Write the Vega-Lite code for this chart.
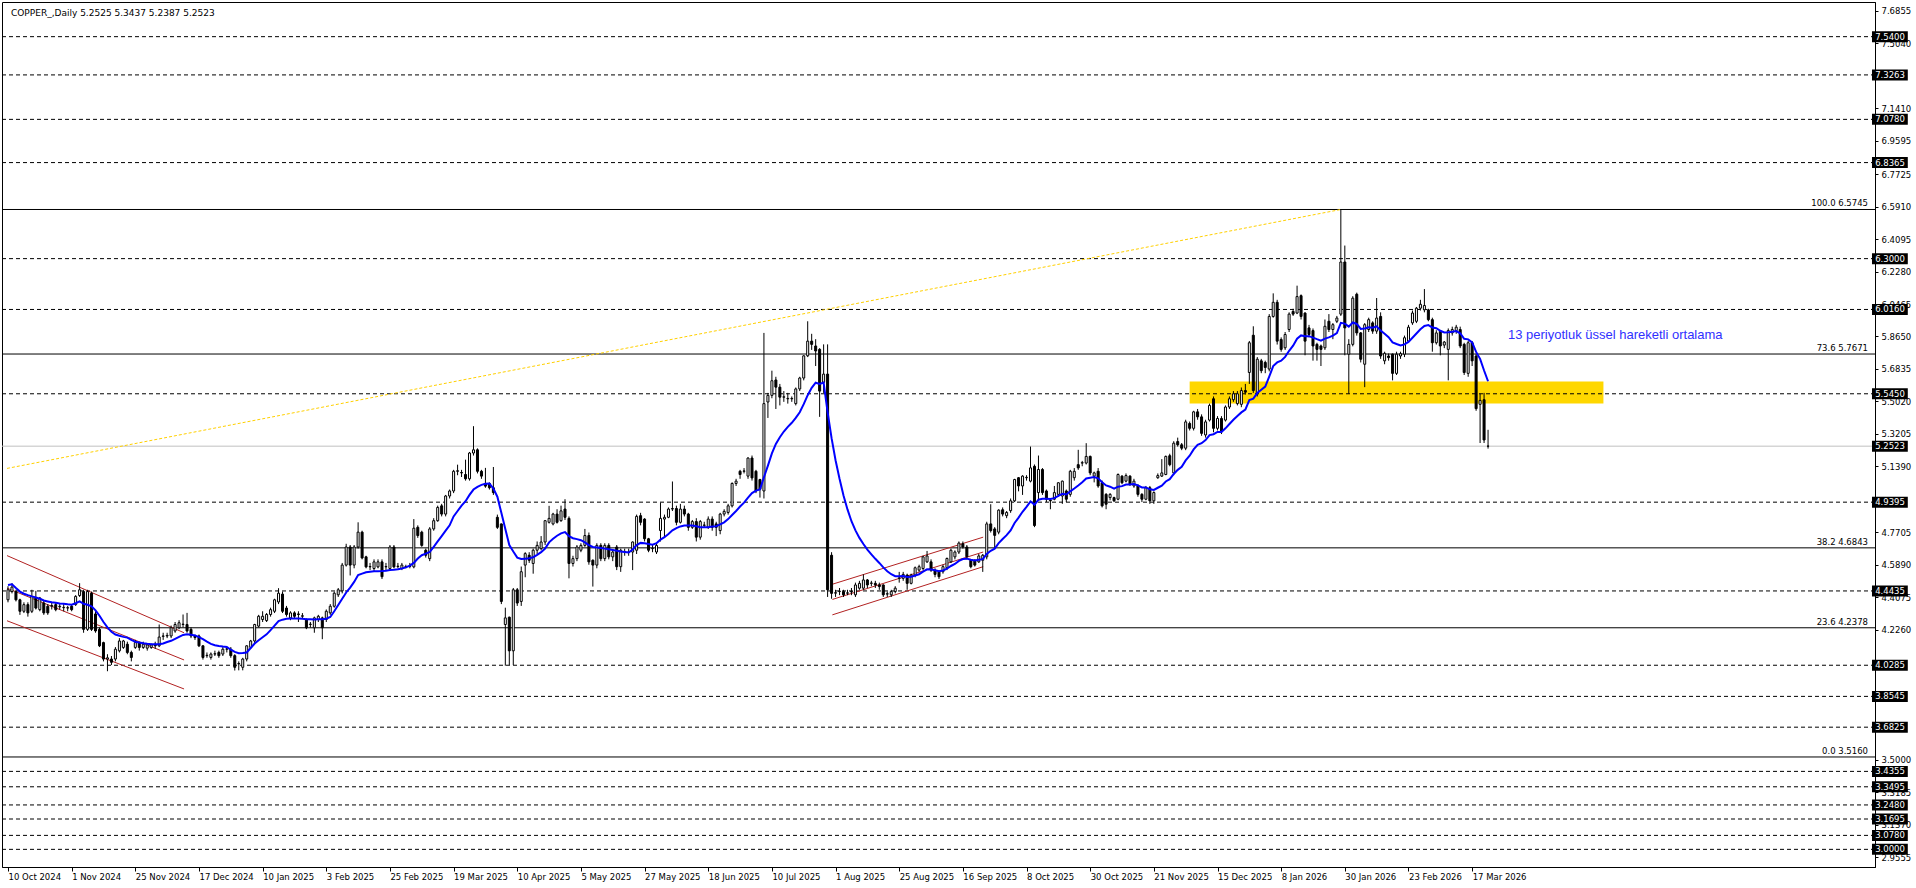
{
"$schema": "https://vega.github.io/schema/vega-lite/v6.json",
"width": 1873, "height": 865,
"autosize": "none",
"padding": {"left": 2, "top": 2, "right": 41, "bottom": 21},
"background": "white",
"config": {"view": {"stroke": "black", "strokeWidth": 1}, "axis": {"grid": false}},
"resolve": {"axis": {"x": "independent", "y": "independent"}},
"datasets": {
"bars": [
{"i":0,"o":4.394,"h":4.47,"l":4.38,"c":4.45,"e":4.477},
{"i":1,"o":4.44,"h":4.487,"l":4.43,"c":4.465,"e":4.481},
{"i":2,"o":4.44,"h":4.45,"l":4.385,"c":4.394,"e":4.46},
{"i":3,"o":4.394,"h":4.4,"l":4.31,"c":4.33,"e":4.44},
{"i":4,"o":4.33,"h":4.38,"l":4.32,"c":4.367,"e":4.428},
{"i":5,"o":4.367,"h":4.38,"l":4.3,"c":4.321,"e":4.42},
{"i":6,"o":4.33,"h":4.45,"l":4.32,"c":4.413,"e":4.413},
{"i":7,"o":4.404,"h":4.444,"l":4.34,"c":4.348,"e":4.407},
{"i":8,"o":4.339,"h":4.41,"l":4.33,"c":4.404,"e":4.4},
{"i":9,"o":4.376,"h":4.39,"l":4.31,"c":4.321,"e":4.39},
{"i":10,"o":4.358,"h":4.37,"l":4.31,"c":4.321,"e":4.385},
{"i":11,"o":4.358,"h":4.38,"l":4.34,"c":4.362,"e":4.38},
{"i":12,"o":4.367,"h":4.38,"l":4.33,"c":4.339,"e":4.377},
{"i":13,"o":4.355,"h":4.37,"l":4.34,"c":4.358,"e":4.374},
{"i":14,"o":4.35,"h":4.37,"l":4.33,"c":4.352,"e":4.372},
{"i":15,"o":4.348,"h":4.36,"l":4.33,"c":4.35,"e":4.369},
{"i":16,"o":4.358,"h":4.37,"l":4.33,"c":4.339,"e":4.367},
{"i":17,"o":4.367,"h":4.42,"l":4.36,"c":4.413,"e":4.375},
{"i":18,"o":4.418,"h":4.487,"l":4.41,"c":4.45,"e":4.385},
{"i":19,"o":4.44,"h":4.45,"l":4.21,"c":4.229,"e":4.372},
{"i":20,"o":4.229,"h":4.45,"l":4.22,"c":4.44,"e":4.366},
{"i":21,"o":4.431,"h":4.44,"l":4.22,"c":4.229,"e":4.358},
{"i":22,"o":4.315,"h":4.33,"l":4.21,"c":4.22,"e":4.335},
{"i":23,"o":4.229,"h":4.24,"l":4.13,"c":4.137,"e":4.305},
{"i":24,"o":4.155,"h":4.16,"l":4.05,"c":4.063,"e":4.27},
{"i":25,"o":4.063,"h":4.09,"l":3.995,"c":4.07,"e":4.24},
{"i":26,"o":4.063,"h":4.08,"l":4.03,"c":4.045,"e":4.215},
{"i":27,"o":4.063,"h":4.13,"l":4.05,"c":4.118,"e":4.2},
{"i":28,"o":4.109,"h":4.18,"l":4.1,"c":4.164,"e":4.193},
{"i":29,"o":4.128,"h":4.17,"l":4.12,"c":4.164,"e":4.187},
{"i":30,"o":4.146,"h":4.16,"l":4.09,"c":4.1,"e":4.183},
{"i":31,"o":4.1,"h":4.11,"l":4.05,"c":4.072,"e":4.17},
{"i":32,"o":4.128,"h":4.17,"l":4.12,"c":4.155,"e":4.16},
{"i":33,"o":4.155,"h":4.16,"l":4.11,"c":4.128,"e":4.155},
{"i":34,"o":4.128,"h":4.16,"l":4.12,"c":4.146,"e":4.151},
{"i":35,"o":4.124,"h":4.15,"l":4.11,"c":4.142,"e":4.148},
{"i":36,"o":4.128,"h":4.15,"l":4.12,"c":4.142,"e":4.146},
{"i":37,"o":4.146,"h":4.16,"l":4.12,"c":4.137,"e":4.146},
{"i":38,"o":4.137,"h":4.256,"l":4.13,"c":4.186,"e":4.146},
{"i":39,"o":4.19,"h":4.21,"l":4.17,"c":4.192,"e":4.15},
{"i":40,"o":4.192,"h":4.21,"l":4.18,"c":4.195,"e":4.158},
{"i":41,"o":4.192,"h":4.25,"l":4.18,"c":4.238,"e":4.165},
{"i":42,"o":4.22,"h":4.27,"l":4.21,"c":4.256,"e":4.176},
{"i":43,"o":4.238,"h":4.28,"l":4.23,"c":4.266,"e":4.187},
{"i":44,"o":4.256,"h":4.312,"l":4.24,"c":4.258,"e":4.198},
{"i":45,"o":4.256,"h":4.321,"l":4.21,"c":4.22,"e":4.201},
{"i":46,"o":4.229,"h":4.24,"l":4.18,"c":4.192,"e":4.199},
{"i":47,"o":4.192,"h":4.2,"l":4.17,"c":4.183,"e":4.195},
{"i":48,"o":4.192,"h":4.2,"l":4.13,"c":4.137,"e":4.186},
{"i":49,"o":4.137,"h":4.14,"l":4.06,"c":4.072,"e":4.174},
{"i":50,"o":4.082,"h":4.1,"l":4.07,"c":4.084,"e":4.16},
{"i":51,"o":4.072,"h":4.1,"l":4.06,"c":4.091,"e":4.148},
{"i":52,"o":4.091,"h":4.11,"l":4.08,"c":4.093,"e":4.14},
{"i":53,"o":4.1,"h":4.11,"l":4.07,"c":4.082,"e":4.136},
{"i":54,"o":4.091,"h":4.13,"l":4.08,"c":4.118,"e":4.133},
{"i":55,"o":4.118,"h":4.13,"l":4.1,"c":4.12,"e":4.131},
{"i":56,"o":4.118,"h":4.13,"l":4.07,"c":4.082,"e":4.115},
{"i":57,"o":4.082,"h":4.09,"l":3.999,"c":4.017,"e":4.103},
{"i":58,"o":4.036,"h":4.05,"l":4.0,"c":4.038,"e":4.096},
{"i":59,"o":4.017,"h":4.07,"l":4.0,"c":4.063,"e":4.097},
{"i":60,"o":4.063,"h":4.14,"l":4.05,"c":4.137,"e":4.1},
{"i":61,"o":4.128,"h":4.17,"l":4.12,"c":4.164,"e":4.125},
{"i":62,"o":4.164,"h":4.26,"l":4.15,"c":4.256,"e":4.15},
{"i":63,"o":4.247,"h":4.31,"l":4.24,"c":4.302,"e":4.168},
{"i":64,"o":4.284,"h":4.33,"l":4.27,"c":4.302,"e":4.185},
{"i":65,"o":4.278,"h":4.32,"l":4.27,"c":4.312,"e":4.201},
{"i":66,"o":4.312,"h":4.35,"l":4.3,"c":4.339,"e":4.225},
{"i":67,"o":4.33,"h":4.4,"l":4.32,"c":4.394,"e":4.25},
{"i":68,"o":4.382,"h":4.459,"l":4.37,"c":4.431,"e":4.275},
{"i":69,"o":4.426,"h":4.44,"l":4.32,"c":4.33,"e":4.283},
{"i":70,"o":4.348,"h":4.36,"l":4.3,"c":4.312,"e":4.288},
{"i":71,"o":4.293,"h":4.33,"l":4.28,"c":4.321,"e":4.29},
{"i":72,"o":4.321,"h":4.33,"l":4.29,"c":4.302,"e":4.29},
{"i":73,"o":4.315,"h":4.33,"l":4.27,"c":4.312,"e":4.29},
{"i":74,"o":4.302,"h":4.32,"l":4.29,"c":4.305,"e":4.288},
{"i":75,"o":4.284,"h":4.29,"l":4.23,"c":4.238,"e":4.286},
{"i":76,"o":4.256,"h":4.27,"l":4.24,"c":4.258,"e":4.285},
{"i":77,"o":4.238,"h":4.3,"l":4.21,"c":4.293,"e":4.284},
{"i":78,"o":4.284,"h":4.31,"l":4.27,"c":4.302,"e":4.285},
{"i":79,"o":4.293,"h":4.3,"l":4.174,"c":4.238,"e":4.286},
{"i":80,"o":4.284,"h":4.34,"l":4.27,"c":4.33,"e":4.288},
{"i":81,"o":4.321,"h":4.37,"l":4.31,"c":4.358,"e":4.298},
{"i":82,"o":4.358,"h":4.44,"l":4.35,"c":4.431,"e":4.33},
{"i":83,"o":4.422,"h":4.46,"l":4.41,"c":4.45,"e":4.365},
{"i":84,"o":4.444,"h":4.6,"l":4.43,"c":4.588,"e":4.4},
{"i":85,"o":4.588,"h":4.707,"l":4.58,"c":4.689,"e":4.435},
{"i":86,"o":4.689,"h":4.7,"l":4.53,"c":4.588,"e":4.462},
{"i":87,"o":4.588,"h":4.7,"l":4.57,"c":4.689,"e":4.494},
{"i":88,"o":4.689,"h":4.827,"l":4.68,"c":4.772,"e":4.532},
{"i":89,"o":4.772,"h":4.78,"l":4.62,"c":4.628,"e":4.54},
{"i":90,"o":4.634,"h":4.64,"l":4.57,"c":4.578,"e":4.548},
{"i":91,"o":4.578,"h":4.6,"l":4.56,"c":4.58,"e":4.551},
{"i":92,"o":4.569,"h":4.62,"l":4.55,"c":4.606,"e":4.553},
{"i":93,"o":4.578,"h":4.62,"l":4.57,"c":4.606,"e":4.554},
{"i":94,"o":4.606,"h":4.62,"l":4.51,"c":4.523,"e":4.555},
{"i":95,"o":4.578,"h":4.6,"l":4.56,"c":4.58,"e":4.557},
{"i":96,"o":4.569,"h":4.7,"l":4.56,"c":4.689,"e":4.56},
{"i":97,"o":4.689,"h":4.7,"l":4.57,"c":4.578,"e":4.562},
{"i":98,"o":4.58,"h":4.6,"l":4.57,"c":4.582,"e":4.565},
{"i":99,"o":4.569,"h":4.6,"l":4.56,"c":4.588,"e":4.569},
{"i":100,"o":4.578,"h":4.59,"l":4.57,"c":4.58,"e":4.575},
{"i":101,"o":4.58,"h":4.6,"l":4.57,"c":4.582,"e":4.585},
{"i":102,"o":4.578,"h":4.845,"l":4.57,"c":4.794,"e":4.6},
{"i":103,"o":4.799,"h":4.81,"l":4.74,"c":4.753,"e":4.625},
{"i":104,"o":4.772,"h":4.78,"l":4.69,"c":4.698,"e":4.643},
{"i":105,"o":4.671,"h":4.68,"l":4.63,"c":4.643,"e":4.652},
{"i":106,"o":4.624,"h":4.8,"l":4.61,"c":4.79,"e":4.661},
{"i":107,"o":4.79,"h":4.85,"l":4.78,"c":4.836,"e":4.69},
{"i":108,"o":4.836,"h":4.92,"l":4.83,"c":4.91,"e":4.72},
{"i":109,"o":4.919,"h":4.93,"l":4.86,"c":4.873,"e":4.75},
{"i":110,"o":4.873,"h":4.98,"l":4.86,"c":4.974,"e":4.78},
{"i":111,"o":4.974,"h":5.01,"l":4.96,"c":5.002,"e":4.81},
{"i":112,"o":5.002,"h":5.12,"l":4.99,"c":5.112,"e":4.86},
{"i":113,"o":5.112,"h":5.149,"l":5.09,"c":5.115,"e":4.89},
{"i":114,"o":5.105,"h":5.12,"l":5.08,"c":5.103,"e":4.92},
{"i":115,"o":5.094,"h":5.177,"l":5.06,"c":5.07,"e":4.945},
{"i":116,"o":5.07,"h":5.22,"l":5.06,"c":5.214,"e":4.98},
{"i":117,"o":5.214,"h":5.364,"l":5.2,"c":5.232,"e":5.01},
{"i":118,"o":5.232,"h":5.24,"l":5.1,"c":5.112,"e":5.025},
{"i":119,"o":5.112,"h":5.12,"l":5.07,"c":5.085,"e":5.036},
{"i":120,"o":5.044,"h":5.131,"l":5.02,"c":5.029,"e":5.042},
{"i":121,"o":5.044,"h":5.05,"l":5.01,"c":5.02,"e":5.044},
{"i":122,"o":5.02,"h":5.136,"l":4.98,"c":4.993,"e":5.015},
{"i":123,"o":4.855,"h":4.87,"l":4.79,"c":4.799,"e":4.97},
{"i":124,"o":4.818,"h":4.82,"l":4.37,"c":4.385,"e":4.88},
{"i":125,"o":4.256,"h":4.35,"l":4.026,"c":4.293,"e":4.79},
{"i":126,"o":4.297,"h":4.3,"l":4.03,"c":4.109,"e":4.7},
{"i":127,"o":4.109,"h":4.46,"l":4.03,"c":4.45,"e":4.664},
{"i":128,"o":4.45,"h":4.46,"l":4.36,"c":4.376,"e":4.63},
{"i":129,"o":4.385,"h":4.58,"l":4.36,"c":4.551,"e":4.622},
{"i":130,"o":4.588,"h":4.66,"l":4.52,"c":4.652,"e":4.624},
{"i":131,"o":4.643,"h":4.66,"l":4.6,"c":4.615,"e":4.626},
{"i":132,"o":4.597,"h":4.68,"l":4.54,"c":4.671,"e":4.632},
{"i":133,"o":4.671,"h":4.72,"l":4.65,"c":4.698,"e":4.645},
{"i":134,"o":4.68,"h":4.75,"l":4.67,"c":4.717,"e":4.66},
{"i":135,"o":4.717,"h":4.84,"l":4.7,"c":4.836,"e":4.68},
{"i":136,"o":4.827,"h":4.919,"l":4.82,"c":4.849,"e":4.715},
{"i":137,"o":4.818,"h":4.88,"l":4.81,"c":4.873,"e":4.735},
{"i":138,"o":4.873,"h":4.9,"l":4.82,"c":4.827,"e":4.752},
{"i":139,"o":4.836,"h":4.92,"l":4.83,"c":4.891,"e":4.765},
{"i":140,"o":4.901,"h":4.956,"l":4.84,"c":4.855,"e":4.772},
{"i":141,"o":4.849,"h":4.86,"l":4.514,"c":4.597,"e":4.75},
{"i":142,"o":4.597,"h":4.64,"l":4.58,"c":4.624,"e":4.738},
{"i":143,"o":4.624,"h":4.7,"l":4.61,"c":4.689,"e":4.733},
{"i":144,"o":4.671,"h":4.71,"l":4.66,"c":4.698,"e":4.727},
{"i":145,"o":4.698,"h":4.79,"l":4.69,"c":4.753,"e":4.715},
{"i":146,"o":4.753,"h":4.77,"l":4.59,"c":4.606,"e":4.7},
{"i":147,"o":4.615,"h":4.62,"l":4.468,"c":4.588,"e":4.689},
{"i":148,"o":4.588,"h":4.71,"l":4.57,"c":4.698,"e":4.686},
{"i":149,"o":4.698,"h":4.71,"l":4.61,"c":4.624,"e":4.683},
{"i":150,"o":4.624,"h":4.71,"l":4.61,"c":4.698,"e":4.68},
{"i":151,"o":4.698,"h":4.71,"l":4.62,"c":4.634,"e":4.676},
{"i":152,"o":4.634,"h":4.67,"l":4.61,"c":4.661,"e":4.672},
{"i":153,"o":4.689,"h":4.7,"l":4.56,"c":4.579,"e":4.668},
{"i":154,"o":4.579,"h":4.68,"l":4.55,"c":4.671,"e":4.664},
{"i":155,"o":4.661,"h":4.68,"l":4.64,"c":4.663,"e":4.661},
{"i":156,"o":4.661,"h":4.68,"l":4.64,"c":4.659,"e":4.658},
{"i":157,"o":4.661,"h":4.72,"l":4.56,"c":4.717,"e":4.675},
{"i":158,"o":4.671,"h":4.87,"l":4.65,"c":4.86,"e":4.7},
{"i":159,"o":4.864,"h":4.88,"l":4.81,"c":4.827,"e":4.712},
{"i":160,"o":4.845,"h":4.85,"l":4.72,"c":4.735,"e":4.71},
{"i":161,"o":4.735,"h":4.74,"l":4.66,"c":4.671,"e":4.706},
{"i":162,"o":4.68,"h":4.7,"l":4.66,"c":4.682,"e":4.702},
{"i":163,"o":4.661,"h":4.71,"l":4.65,"c":4.698,"e":4.71},
{"i":164,"o":4.781,"h":4.937,"l":4.72,"c":4.849,"e":4.73},
{"i":165,"o":4.845,"h":4.87,"l":4.74,"c":4.855,"e":4.744},
{"i":166,"o":4.855,"h":4.91,"l":4.85,"c":4.901,"e":4.762},
{"i":167,"o":4.901,"h":5.055,"l":4.89,"c":4.904,"e":4.782},
{"i":168,"o":4.904,"h":4.92,"l":4.81,"c":4.827,"e":4.795},
{"i":169,"o":4.827,"h":4.93,"l":4.82,"c":4.901,"e":4.804},
{"i":170,"o":4.901,"h":4.92,"l":4.86,"c":4.873,"e":4.809},
{"i":171,"o":4.873,"h":4.88,"l":4.78,"c":4.799,"e":4.809},
{"i":172,"o":4.799,"h":4.84,"l":4.79,"c":4.831,"e":4.809},
{"i":173,"o":4.831,"h":4.85,"l":4.72,"c":4.744,"e":4.805},
{"i":174,"o":4.744,"h":4.84,"l":4.73,"c":4.831,"e":4.8},
{"i":175,"o":4.81,"h":4.83,"l":4.8,"c":4.812,"e":4.799},
{"i":176,"o":4.799,"h":4.86,"l":4.79,"c":4.845,"e":4.8},
{"i":177,"o":4.845,"h":4.86,"l":4.78,"c":4.799,"e":4.804},
{"i":178,"o":4.818,"h":4.83,"l":4.75,"c":4.799,"e":4.805},
{"i":179,"o":4.781,"h":4.88,"l":4.76,"c":4.873,"e":4.815},
{"i":180,"o":4.873,"h":4.9,"l":4.86,"c":4.888,"e":4.827},
{"i":181,"o":4.882,"h":4.93,"l":4.87,"c":4.919,"e":4.845},
{"i":182,"o":4.919,"h":5.05,"l":4.91,"c":5.044,"e":4.868},
{"i":183,"o":5.044,"h":5.07,"l":5.03,"c":5.057,"e":4.89},
{"i":184,"o":5.112,"h":5.12,"l":5.07,"c":5.094,"e":4.915},
{"i":185,"o":5.112,"h":5.13,"l":5.1,"c":5.114,"e":4.937},
{"i":186,"o":5.085,"h":5.19,"l":5.07,"c":5.186,"e":4.965},
{"i":187,"o":5.186,"h":5.2,"l":5.06,"c":5.075,"e":4.99},
{"i":188,"o":5.112,"h":5.12,"l":4.99,"c":5.002,"e":5.004},
{"i":189,"o":5.066,"h":5.07,"l":4.965,"c":5.011,"e":5.011},
{"i":190,"o":5.002,"h":5.885,"l":4.96,"c":5.49,"e":5.079},
{"i":191,"o":5.499,"h":5.55,"l":5.41,"c":5.536,"e":5.144},
{"i":192,"o":5.536,"h":5.674,"l":5.52,"c":5.618,"e":5.212},
{"i":193,"o":5.622,"h":5.64,"l":5.46,"c":5.582,"e":5.265},
{"i":194,"o":5.582,"h":5.6,"l":5.48,"c":5.526,"e":5.302},
{"i":195,"o":5.526,"h":5.56,"l":5.5,"c":5.528,"e":5.334},
{"i":196,"o":5.517,"h":5.55,"l":5.49,"c":5.519,"e":5.36},
{"i":197,"o":5.517,"h":5.53,"l":5.5,"c":5.519,"e":5.383},
{"i":198,"o":5.49,"h":5.58,"l":5.48,"c":5.572,"e":5.41},
{"i":199,"o":5.572,"h":5.64,"l":5.56,"c":5.633,"e":5.442},
{"i":200,"o":5.633,"h":5.76,"l":5.62,"c":5.757,"e":5.487},
{"i":201,"o":5.757,"h":5.95,"l":5.75,"c":5.839,"e":5.537},
{"i":202,"o":5.839,"h":5.88,"l":5.79,"c":5.821,"e":5.578},
{"i":203,"o":5.812,"h":5.85,"l":5.7,"c":5.784,"e":5.607},
{"i":204,"o":5.793,"h":5.8,"l":5.416,"c":5.56,"e":5.6},
{"i":205,"o":5.609,"h":5.821,"l":5.55,"c":5.655,"e":5.608},
{"i":206,"o":5.655,"h":5.821,"l":4.41,"c":4.45,"e":5.442},
{"i":207,"o":4.643,"h":4.66,"l":4.4,"c":4.43,"e":5.297},
{"i":208,"o":4.431,"h":4.45,"l":4.41,"c":4.434,"e":5.174},
{"i":209,"o":4.44,"h":4.46,"l":4.42,"c":4.442,"e":5.07},
{"i":210,"o":4.44,"h":4.45,"l":4.41,"c":4.422,"e":4.977},
{"i":211,"o":4.431,"h":4.45,"l":4.42,"c":4.433,"e":4.899},
{"i":212,"o":4.44,"h":4.46,"l":4.42,"c":4.438,"e":4.833},
{"i":213,"o":4.422,"h":4.49,"l":4.41,"c":4.477,"e":4.782},
{"i":214,"o":4.459,"h":4.5,"l":4.45,"c":4.486,"e":4.74},
{"i":215,"o":4.459,"h":4.536,"l":4.45,"c":4.505,"e":4.706},
{"i":216,"o":4.505,"h":4.51,"l":4.46,"c":4.477,"e":4.674},
{"i":217,"o":4.486,"h":4.5,"l":4.47,"c":4.488,"e":4.648},
{"i":218,"o":4.486,"h":4.5,"l":4.46,"c":4.477,"e":4.623},
{"i":219,"o":4.477,"h":4.49,"l":4.45,"c":4.468,"e":4.6},
{"i":220,"o":4.477,"h":4.48,"l":4.41,"c":4.422,"e":4.575},
{"i":221,"o":4.426,"h":4.44,"l":4.41,"c":4.428,"e":4.554},
{"i":222,"o":4.422,"h":4.45,"l":4.41,"c":4.44,"e":4.537},
{"i":223,"o":4.44,"h":4.47,"l":4.43,"c":4.459,"e":4.526},
{"i":224,"o":4.514,"h":4.55,"l":4.49,"c":4.516,"e":4.525},
{"i":225,"o":4.514,"h":4.55,"l":4.5,"c":4.536,"e":4.527},
{"i":226,"o":4.532,"h":4.54,"l":4.45,"c":4.486,"e":4.521},
{"i":227,"o":4.486,"h":4.54,"l":4.48,"c":4.532,"e":4.523},
{"i":228,"o":4.532,"h":4.58,"l":4.52,"c":4.573,"e":4.53},
{"i":229,"o":4.56,"h":4.59,"l":4.55,"c":4.579,"e":4.537},
{"i":230,"o":4.569,"h":4.64,"l":4.56,"c":4.634,"e":4.551},
{"i":231,"o":4.606,"h":4.667,"l":4.6,"c":4.639,"e":4.564},
{"i":232,"o":4.606,"h":4.62,"l":4.55,"c":4.56,"e":4.563},
{"i":233,"o":4.56,"h":4.57,"l":4.52,"c":4.536,"e":4.559},
{"i":234,"o":4.551,"h":4.56,"l":4.51,"c":4.523,"e":4.554},
{"i":235,"o":4.551,"h":4.59,"l":4.54,"c":4.579,"e":4.558},
{"i":236,"o":4.573,"h":4.63,"l":4.56,"c":4.625,"e":4.568},
{"i":237,"o":4.606,"h":4.68,"l":4.6,"c":4.671,"e":4.583},
{"i":238,"o":4.634,"h":4.67,"l":4.62,"c":4.661,"e":4.594},
{"i":239,"o":4.661,"h":4.72,"l":4.65,"c":4.711,"e":4.611},
{"i":240,"o":4.707,"h":4.72,"l":4.68,"c":4.689,"e":4.622},
{"i":241,"o":4.689,"h":4.7,"l":4.62,"c":4.634,"e":4.624},
{"i":242,"o":4.615,"h":4.62,"l":4.57,"c":4.579,"e":4.618},
{"i":243,"o":4.615,"h":4.62,"l":4.58,"c":4.588,"e":4.614},
{"i":244,"o":4.606,"h":4.65,"l":4.6,"c":4.639,"e":4.618},
{"i":245,"o":4.615,"h":4.65,"l":4.55,"c":4.643,"e":4.621},
{"i":246,"o":4.634,"h":4.83,"l":4.62,"c":4.818,"e":4.65},
{"i":247,"o":4.818,"h":4.928,"l":4.77,"c":4.781,"e":4.668},
{"i":248,"o":4.79,"h":4.8,"l":4.68,"c":4.754,"e":4.68},
{"i":249,"o":4.772,"h":4.9,"l":4.76,"c":4.895,"e":4.711},
{"i":250,"o":4.897,"h":4.91,"l":4.86,"c":4.873,"e":4.734},
{"i":251,"o":4.864,"h":4.89,"l":4.85,"c":4.882,"e":4.755},
{"i":252,"o":4.892,"h":4.96,"l":4.88,"c":4.947,"e":4.782},
{"i":253,"o":4.947,"h":5.07,"l":4.94,"c":5.066,"e":4.823},
{"i":254,"o":5.076,"h":5.08,"l":5.0,"c":5.03,"e":4.853},
{"i":255,"o":5.03,"h":5.09,"l":4.98,"c":5.085,"e":4.886},
{"i":256,"o":5.076,"h":5.09,"l":5.06,"c":5.078,"e":4.913},
{"i":257,"o":5.057,"h":5.25,"l":5.05,"c":5.131,"e":4.944},
{"i":258,"o":5.14,"h":5.15,"l":4.8,"c":4.809,"e":4.925},
{"i":259,"o":4.993,"h":5.2,"l":4.95,"c":5.122,"e":4.953},
{"i":260,"o":5.122,"h":5.13,"l":4.98,"c":4.993,"e":4.959},
{"i":261,"o":5.002,"h":5.01,"l":4.94,"c":4.956,"e":4.958},
{"i":262,"o":4.95,"h":4.96,"l":4.9,"c":4.947,"e":4.957},
{"i":263,"o":4.956,"h":5.03,"l":4.95,"c":4.993,"e":4.962},
{"i":264,"o":4.983,"h":5.05,"l":4.97,"c":5.048,"e":4.974},
{"i":265,"o":4.974,"h":5.06,"l":4.93,"c":5.057,"e":4.986},
{"i":266,"o":5.002,"h":5.01,"l":4.94,"c":4.956,"e":4.982},
{"i":267,"o":4.983,"h":5.12,"l":4.97,"c":5.112,"e":5.0},
{"i":268,"o":5.076,"h":5.13,"l":5.06,"c":5.112,"e":5.016},
{"i":269,"o":5.149,"h":5.232,"l":5.12,"c":5.131,"e":5.033},
{"i":270,"o":5.158,"h":5.17,"l":5.14,"c":5.16,"e":5.051},
{"i":271,"o":5.158,"h":5.269,"l":5.15,"c":5.195,"e":5.072},
{"i":272,"o":5.195,"h":5.2,"l":5.09,"c":5.103,"e":5.076},
{"i":273,"o":5.085,"h":5.11,"l":5.05,"c":5.103,"e":5.08},
{"i":274,"o":5.112,"h":5.13,"l":5.02,"c":5.03,"e":5.073},
{"i":275,"o":5.048,"h":5.06,"l":4.91,"c":4.919,"e":5.051},
{"i":276,"o":4.983,"h":4.99,"l":4.9,"c":4.928,"e":5.033},
{"i":277,"o":4.965,"h":4.99,"l":4.95,"c":4.983,"e":5.026},
{"i":278,"o":4.965,"h":4.97,"l":4.94,"c":4.947,"e":5.015},
{"i":279,"o":4.956,"h":5.1,"l":4.95,"c":5.094,"e":5.026},
{"i":280,"o":5.085,"h":5.09,"l":5.04,"c":5.048,"e":5.029},
{"i":281,"o":5.057,"h":5.1,"l":5.05,"c":5.088,"e":5.038},
{"i":282,"o":5.085,"h":5.09,"l":5.03,"c":5.039,"e":5.038},
{"i":283,"o":5.03,"h":5.07,"l":5.02,"c":5.057,"e":5.041},
{"i":284,"o":5.03,"h":5.04,"l":4.97,"c":4.983,"e":5.033},
{"i":285,"o":4.983,"h":4.99,"l":4.94,"c":4.956,"e":5.022},
{"i":286,"o":4.956,"h":5.03,"l":4.95,"c":5.02,"e":5.022},
{"i":287,"o":5.02,"h":5.03,"l":4.93,"c":4.947,"e":5.011},
{"i":288,"o":4.947,"h":5.0,"l":4.93,"c":4.993,"e":5.008},
{"i":289,"o":5.076,"h":5.1,"l":5.07,"c":5.088,"e":5.02},
{"i":290,"o":5.085,"h":5.18,"l":5.08,"c":5.103,"e":5.032},
{"i":291,"o":5.094,"h":5.2,"l":5.09,"c":5.195,"e":5.055},
{"i":292,"o":5.199,"h":5.21,"l":5.14,"c":5.149,"e":5.068},
{"i":293,"o":5.103,"h":5.28,"l":5.09,"c":5.269,"e":5.097},
{"i":294,"o":5.278,"h":5.3,"l":5.25,"c":5.26,"e":5.12},
{"i":295,"o":5.26,"h":5.27,"l":5.23,"c":5.241,"e":5.137},
{"i":296,"o":5.241,"h":5.4,"l":5.23,"c":5.388,"e":5.173},
{"i":297,"o":5.379,"h":5.39,"l":5.34,"c":5.352,"e":5.199},
{"i":298,"o":5.352,"h":5.45,"l":5.34,"c":5.444,"e":5.234},
{"i":299,"o":5.444,"h":5.46,"l":5.4,"c":5.416,"e":5.26},
{"i":300,"o":5.416,"h":5.43,"l":5.31,"c":5.324,"e":5.269},
{"i":301,"o":5.315,"h":5.4,"l":5.3,"c":5.388,"e":5.286},
{"i":302,"o":5.398,"h":5.49,"l":5.39,"c":5.48,"e":5.314},
{"i":303,"o":5.517,"h":5.53,"l":5.33,"c":5.352,"e":5.319},
{"i":304,"o":5.352,"h":5.42,"l":5.34,"c":5.407,"e":5.332},
{"i":305,"o":5.407,"h":5.42,"l":5.32,"c":5.333,"e":5.332},
{"i":306,"o":5.398,"h":5.48,"l":5.39,"c":5.471,"e":5.352},
{"i":307,"o":5.471,"h":5.53,"l":5.46,"c":5.517,"e":5.376},
{"i":308,"o":5.512,"h":5.56,"l":5.5,"c":5.545,"e":5.4},
{"i":309,"o":5.49,"h":5.56,"l":5.48,"c":5.545,"e":5.421},
{"i":310,"o":5.486,"h":5.58,"l":5.47,"c":5.563,"e":5.441},
{"i":311,"o":5.563,"h":5.6,"l":5.54,"c":5.554,"e":5.457},
{"i":312,"o":5.664,"h":5.84,"l":5.6,"c":5.83,"e":5.51},
{"i":313,"o":5.872,"h":5.922,"l":5.55,"c":5.563,"e":5.518},
{"i":314,"o":5.545,"h":5.75,"l":5.53,"c":5.738,"e":5.549},
{"i":315,"o":5.729,"h":5.74,"l":5.66,"c":5.674,"e":5.567},
{"i":316,"o":5.72,"h":5.73,"l":5.66,"c":5.692,"e":5.585},
{"i":317,"o":5.683,"h":5.99,"l":5.67,"c":5.977,"e":5.641},
{"i":318,"o":5.977,"h":6.106,"l":5.97,"c":6.056,"e":5.7},
{"i":319,"o":6.056,"h":6.07,"l":5.82,"c":5.839,"e":5.72},
{"i":320,"o":5.848,"h":5.86,"l":5.78,"c":5.793,"e":5.73},
{"i":321,"o":5.802,"h":5.89,"l":5.79,"c":5.876,"e":5.751},
{"i":322,"o":5.904,"h":6.0,"l":5.89,"c":5.99,"e":5.785},
{"i":323,"o":6.005,"h":6.02,"l":5.98,"c":5.99,"e":5.814},
{"i":324,"o":5.996,"h":6.149,"l":5.99,"c":6.088,"e":5.853},
{"i":325,"o":6.093,"h":6.1,"l":5.96,"c":5.977,"e":5.871},
{"i":326,"o":5.996,"h":6.0,"l":5.76,"c":5.839,"e":5.866},
{"i":327,"o":5.913,"h":5.93,"l":5.86,"c":5.876,"e":5.867},
{"i":328,"o":5.898,"h":5.91,"l":5.73,"c":5.812,"e":5.859},
{"i":329,"o":5.821,"h":5.83,"l":5.73,"c":5.793,"e":5.85},
{"i":330,"o":5.812,"h":5.82,"l":5.7,"c":5.793,"e":5.842},
{"i":331,"o":5.802,"h":5.96,"l":5.79,"c":5.922,"e":5.853},
{"i":332,"o":5.95,"h":5.99,"l":5.89,"c":5.904,"e":5.86},
{"i":333,"o":5.904,"h":5.94,"l":5.85,"c":5.931,"e":5.87},
{"i":334,"o":5.95,"h":5.98,"l":5.94,"c":5.968,"e":5.884},
{"i":335,"o":5.99,"h":6.576,"l":5.98,"c":6.281,"e":5.941},
{"i":336,"o":6.281,"h":6.373,"l":5.76,"c":5.913,"e":5.937},
{"i":337,"o":5.766,"h":5.85,"l":5.545,"c":5.821,"e":5.92},
{"i":338,"o":5.821,"h":6.09,"l":5.81,"c":6.079,"e":5.943},
{"i":339,"o":6.101,"h":6.11,"l":5.87,"c":5.885,"e":5.935},
{"i":340,"o":5.885,"h":5.89,"l":5.72,"c":5.738,"e":5.907},
{"i":341,"o":5.71,"h":5.94,"l":5.582,"c":5.931,"e":5.91},
{"i":342,"o":5.904,"h":5.97,"l":5.89,"c":5.959,"e":5.917},
{"i":343,"o":5.941,"h":5.95,"l":5.88,"c":5.895,"e":5.914},
{"i":344,"o":5.895,"h":6.08,"l":5.88,"c":5.968,"e":5.922},
{"i":345,"o":5.977,"h":6.0,"l":5.74,"c":5.756,"e":5.898},
{"i":346,"o":5.729,"h":5.78,"l":5.71,"c":5.771,"e":5.88},
{"i":347,"o":5.756,"h":5.77,"l":5.73,"c":5.747,"e":5.861},
{"i":348,"o":5.766,"h":5.77,"l":5.62,"c":5.659,"e":5.832},
{"i":349,"o":5.659,"h":5.78,"l":5.65,"c":5.766,"e":5.823},
{"i":350,"o":5.756,"h":5.78,"l":5.74,"c":5.769,"e":5.815},
{"i":351,"o":5.766,"h":5.87,"l":5.75,"c":5.858,"e":5.821},
{"i":352,"o":5.839,"h":5.93,"l":5.83,"c":5.917,"e":5.835},
{"i":353,"o":5.941,"h":6.01,"l":5.93,"c":5.996,"e":5.858},
{"i":354,"o":5.95,"h":6.03,"l":5.94,"c":6.023,"e":5.882},
{"i":355,"o":6.023,"h":6.07,"l":6.01,"c":6.045,"e":5.905},
{"i":356,"o":6.014,"h":6.13,"l":6.0,"c":6.038,"e":5.924},
{"i":357,"o":6.014,"h":6.02,"l":5.95,"c":5.959,"e":5.929},
{"i":358,"o":5.959,"h":5.97,"l":5.78,"c":5.83,"e":5.915},
{"i":359,"o":5.83,"h":5.9,"l":5.82,"c":5.885,"e":5.911},
{"i":360,"o":5.895,"h":5.9,"l":5.76,"c":5.812,"e":5.897},
{"i":361,"o":5.817,"h":5.84,"l":5.8,"c":5.834,"e":5.888},
{"i":362,"o":5.793,"h":5.91,"l":5.62,"c":5.898,"e":5.889},
{"i":363,"o":5.885,"h":5.92,"l":5.87,"c":5.904,"e":5.891},
{"i":364,"o":5.898,"h":5.93,"l":5.88,"c":5.917,"e":5.895},
{"i":365,"o":5.904,"h":5.92,"l":5.8,"c":5.812,"e":5.883},
{"i":366,"o":5.821,"h":5.83,"l":5.65,"c":5.664,"e":5.852},
{"i":367,"o":5.659,"h":5.84,"l":5.64,"c":5.83,"e":5.849},
{"i":368,"o":5.83,"h":5.84,"l":5.7,"c":5.729,"e":5.832},
{"i":369,"o":5.756,"h":5.77,"l":5.45,"c":5.462,"e":5.779},
{"i":370,"o":5.486,"h":5.545,"l":5.27,"c":5.508,"e":5.74},
{"i":371,"o":5.512,"h":5.55,"l":5.27,"c":5.287,"e":5.675},
{"i":372,"o":5.2525,"h":5.3437,"l":5.2387,"c":5.2523,"e":5.615}
],
"lines": [
{"p":7.54,"k":"d"},{"p":7.3263,"k":"d"},{"p":7.078,"k":"d"},{"p":6.8365,"k":"d"},{"p":6.3,"k":"d"},{"p":6.016,"k":"d"},{"p":5.545,"k":"d"},{"p":4.9395,"k":"d"},{"p":4.4435,"k":"d"},{"p":4.0285,"k":"d"},{"p":3.8545,"k":"d"},{"p":3.6825,"k":"d"},{"p":3.4355,"k":"d"},{"p":3.3495,"k":"d"},{"p":3.248,"k":"d"},{"p":3.1695,"k":"d"},{"p":3.078,"k":"d"},{"p":3.0,"k":"d"},
{"p":5.2523,"k":"b"},
{"p":6.5745,"k":"f","t":"100.0 6.5745"},{"p":5.7671,"k":"f","t":"73.6 5.7671"},{"p":4.6843,"k":"f","t":"38.2 4.6843"},{"p":4.2378,"k":"f","t":"23.6 4.2378"},{"p":3.516,"k":"f","t":"0.0 3.5160"}
],
"trends": [
{"id":"gold","i":-0.25,"p":5.128},{"id":"gold","i":335,"p":6.5745},
{"id":"r1","i":-0.25,"p":4.641},{"id":"r1","i":44.25,"p":4.21},
{"id":"r2","i":-0.25,"p":4.459},{"id":"r2","i":44.25,"p":4.058},
{"id":"r3","i":-0.25,"p":4.277},{"id":"r3","i":44.25,"p":3.896},
{"id":"r4","i":207.2,"p":4.481},{"id":"r4","i":245.1,"p":4.744},
{"id":"r5","i":207.2,"p":4.396},{"id":"r5","i":245.1,"p":4.661},
{"id":"r6","i":207.2,"p":4.31},{"id":"r6","i":245.1,"p":4.579}
]
},
"layer": [
{
"data": {"values": [{"a":297,"b":401,"lo":5.491,"hi":5.613}]},
"mark": {"type": "rect", "color": "#FFD700"},
"encoding": {
"x": {"field": "a", "type": "quantitative", "scale": {"domain": [-0.25, 468], "nice": false, "zero": false}, "axis": null},
"x2": {"field": "b"},
"y": {"field": "lo", "type": "quantitative", "scale": {"domain": [2.9293, 7.7057], "nice": false, "zero": false}, "axis": null},
"y2": {"field": "hi"}
}
},
{
"data": {"name": "lines"},
"transform": [{"filter": "datum.k == 'd'"}],
"mark": {"type": "rule", "color": "black", "strokeWidth": 1, "strokeDash": [4, 3]},
"encoding": {"y": {"field": "p", "type": "quantitative", "scale": {"domain": [2.9293, 7.7057], "nice": false, "zero": false}, "axis": null}}
},
{
"data": {"name": "lines"},
"transform": [{"filter": "datum.k == 'f'"}],
"mark": {"type": "rule", "color": "black", "strokeWidth": 1},
"encoding": {"y": {"field": "p", "type": "quantitative", "scale": {"domain": [2.9293, 7.7057], "nice": false, "zero": false}, "axis": null}}
},
{
"data": {"name": "lines"},
"transform": [{"filter": "datum.k == 'b'"}],
"mark": {"type": "rule", "color": "#c0c0c0", "strokeWidth": 1},
"encoding": {"y": {"field": "p", "type": "quantitative", "scale": {"domain": [2.9293, 7.7057], "nice": false, "zero": false}, "axis": null}}
},
{
"data": {"name": "trends"},
"transform": [{"filter": "datum.id == 'gold'"}],
"mark": {"type": "line", "color": "#FFD000", "strokeWidth": 1, "strokeDash": [3, 2]},
"encoding": {
"x": {"field": "i", "type": "quantitative", "scale": {"domain": [-0.25, 468], "nice": false, "zero": false}, "axis": null},
"y": {"field": "p", "type": "quantitative", "scale": {"domain": [2.9293, 7.7057], "nice": false, "zero": false}, "axis": null}
}
},
{
"data": {"name": "trends"},
"transform": [{"filter": "datum.id != 'gold'"}],
"mark": {"type": "line", "color": "#b22222", "strokeWidth": 1},
"encoding": {
"x": {"field": "i", "type": "quantitative", "scale": {"domain": [-0.25, 468], "nice": false, "zero": false}, "axis": null},
"y": {"field": "p", "type": "quantitative", "scale": {"domain": [2.9293, 7.7057], "nice": false, "zero": false}, "axis": null},
"detail": {"field": "id"}
}
},
{
"data": {"name": "bars"},
"mark": {"type": "rule", "color": "black", "strokeWidth": 1},
"encoding": {
"x": {"field": "i", "type": "quantitative", "scale": {"domain": [-0.25, 468], "nice": false, "zero": false},
"axis": {"orient": "bottom", "title": null, "values": [0,16,32,48,64,80,96,112,128,144,160,176,192,208,224,240,256,272,288,304,320,336,352,368],
"labelExpr": "['10 Oct 2024','1 Nov 2024','25 Nov 2024','17 Dec 2024','10 Jan 2025','3 Feb 2025','25 Feb 2025','19 Mar 2025','10 Apr 2025','5 May 2025','27 May 2025','18 Jun 2025','10 Jul 2025','1 Aug 2025','25 Aug 2025','16 Sep 2025','8 Oct 2025','30 Oct 2025','21 Nov 2025','15 Dec 2025','8 Jan 2026','30 Jan 2026','23 Feb 2026','17 Mar 2026'][round(datum.value/16)]",
"labelAlign": "left", "labelFont": "DejaVu Sans", "labelFontSize": 8.5, "labelColor": "black", "labelPadding": 1, "labelOverlap": false, "labelFlush": false,
"tickSize": 4, "tickColor": "black", "domainColor": "black", "grid": false}},
"y": {"field": "l", "type": "quantitative", "scale": {"domain": [2.9293, 7.7057], "nice": false, "zero": false},
"axis": {"orient": "right", "title": null, "values": [7.6855,7.504,7.141,6.9595,6.7725,6.591,6.4095,6.228,6.0465,5.865,5.6835,5.502,5.3205,5.139,4.7705,4.589,4.4075,4.226,3.5,3.3185,3.137,2.9555],
"format": ".4f", "labelFont": "DejaVu Sans", "labelFontSize": 8.5, "labelColor": "black", "labelPadding": 3, "labelOverlap": false, "labelFlush": false,
"tickSize": 3, "tickColor": "black", "domainColor": "black", "grid": false}},
"y2": {"field": "h"}
}
},
{
"data": {"name": "bars"},
"mark": {"type": "bar", "size": 2, "stroke": "black", "strokeWidth": 1},
"encoding": {
"x": {"field": "i", "type": "quantitative", "scale": {"domain": [-0.25, 468], "nice": false, "zero": false}, "axis": null},
"y": {"field": "o", "type": "quantitative", "scale": {"domain": [2.9293, 7.7057], "nice": false, "zero": false}, "axis": null},
"y2": {"field": "c"},
"fill": {"condition": {"test": "datum.c >= datum.o", "value": "white"}, "value": "black"}
}
},
{
"data": {"name": "bars"},
"mark": {"type": "line", "color": "#0000ff", "strokeWidth": 2},
"encoding": {
"x": {"field": "i", "type": "quantitative", "scale": {"domain": [-0.25, 468], "nice": false, "zero": false}, "axis": null},
"y": {"field": "e", "type": "quantitative", "scale": {"domain": [2.9293, 7.7057], "nice": false, "zero": false}, "axis": null}
}
},
{
"data": {"name": "lines"},
"transform": [{"filter": "datum.k == 'f'"}],
"mark": {"type": "text", "align": "right", "baseline": "bottom", "dy": -1, "font": "DejaVu Sans", "fontSize": 8.5, "color": "black"},
"encoding": {
"x": {"datum": 467.5, "type": "quantitative", "scale": {"domain": [-0.25, 468], "nice": false, "zero": false}, "axis": null},
"y": {"field": "p", "type": "quantitative", "scale": {"domain": [2.9293, 7.7057], "nice": false, "zero": false}, "axis": null},
"text": {"field": "t"}
}
},
{
"data": {"values": [{"t": "COPPER_,Daily  5.2525 5.3437 5.2387 5.2523"}]},
"mark": {"type": "text", "align": "left", "baseline": "middle", "font": "DejaVu Sans", "fontSize": 9, "color": "black"},
"encoding": {
"x": {"datum": 0.75, "type": "quantitative", "scale": {"domain": [-0.25, 468], "nice": false, "zero": false}, "axis": null},
"y": {"datum": 7.6725, "type": "quantitative", "scale": {"domain": [2.9293, 7.7057], "nice": false, "zero": false}, "axis": null},
"text": {"field": "t"}
}
},
{
"data": {"values": [{"t": "13 periyotluk üssel hareketli ortalama"}]},
"mark": {"type": "text", "align": "left", "baseline": "middle", "font": "Liberation Sans", "fontSize": 13, "color": "#3030ff"},
"encoding": {
"x": {"datum": 377, "type": "quantitative", "scale": {"domain": [-0.25, 468], "nice": false, "zero": false}, "axis": null},
"y": {"datum": 5.872, "type": "quantitative", "scale": {"domain": [2.9293, 7.7057], "nice": false, "zero": false}, "axis": null},
"text": {"field": "t"}
}
},
{
"data": {"name": "lines"},
"transform": [{"filter": "datum.k != 'f'"}],
"mark": {"type": "bar", "size": 11, "color": "black", "clip": false},
"encoding": {
"x": {"datum": 468.5, "type": "quantitative", "scale": {"domain": [-0.25, 468], "nice": false, "zero": false}, "axis": null},
"x2": {"datum": 477.5},
"y": {"field": "p", "type": "quantitative", "scale": {"domain": [2.9293, 7.7057], "nice": false, "zero": false}, "axis": null}
}
},
{
"data": {"name": "lines"},
"transform": [{"filter": "datum.k != 'f'"}],
"mark": {"type": "text", "align": "left", "baseline": "middle", "font": "DejaVu Sans", "fontSize": 8.5, "color": "white", "clip": false},
"encoding": {
"x": {"datum": 469.3, "type": "quantitative", "scale": {"domain": [-0.25, 468], "nice": false, "zero": false}, "axis": null},
"y": {"field": "p", "type": "quantitative", "scale": {"domain": [2.9293, 7.7057], "nice": false, "zero": false}, "axis": null},
"text": {"field": "p", "type": "quantitative", "format": ".4f"}
}
}
]
}
